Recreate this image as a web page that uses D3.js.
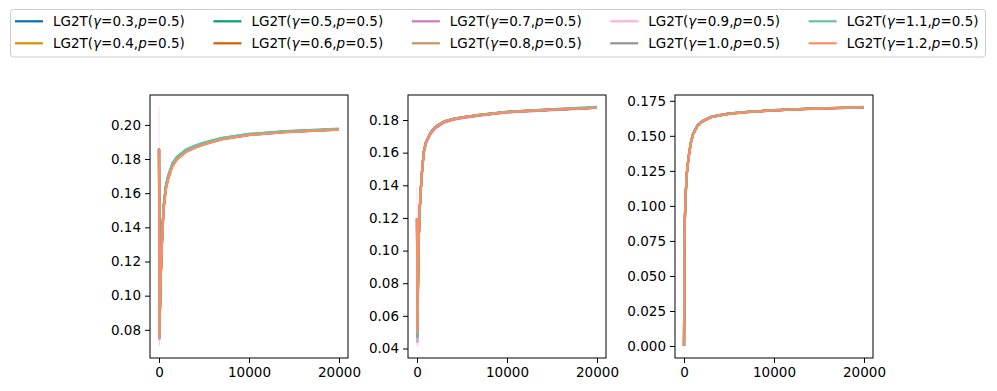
<!DOCTYPE html>
<html>
  <head>
    <script src="https://cdn.jsdelivr.net/npm/d3@7"></script>
    <style>
      body { margin: 0; background-color: white; }
      text { font-family: 'DejaVu Sans', sans-serif; }
    </style>
  </head>
  <body>
    <svg id="canvas" width="997" height="391"></svg>

    <script>
      // series labels and colours
      const gammas = ['0.3', '0.4', '0.5', '0.6', '0.7', '0.8', '0.9', '1.0', '1.1', '1.2']
      const colors = ['#0173b2', '#de8f05', '#029e73', '#d55e00', '#cc78bc',
                      '#ca9161', '#fbafe4', '#949494', '#66c2a5', '#fc8d62']

      // sampled training steps (shared by all series)
      const steps = [0, 50, 150, 300, 500, 750, 1000, 1500, 2000, 3000, 4000, 5000, 7000, 10000, 14000, 20000]

      // left panel, one row per gamma
      const valuesA = [
        [0.186, 0.0760, 0.105, 0.128, 0.151, 0.163, 0.1690, 0.1766, 0.1804, 0.1847, 0.1872, 0.1890, 0.1919, 0.1943, 0.1960, 0.1974],
        [0.186, 0.0758, 0.105, 0.128, 0.151, 0.163, 0.1688, 0.1764, 0.1802, 0.1846, 0.1870, 0.1889, 0.1918, 0.1942, 0.1959, 0.1973],
        [0.186, 0.0757, 0.106, 0.129, 0.152, 0.164, 0.1700, 0.1774, 0.1812, 0.1854, 0.1878, 0.1895, 0.1923, 0.1946, 0.1962, 0.1976],
        [0.186, 0.0756, 0.105, 0.128, 0.151, 0.163, 0.1690, 0.1766, 0.1803, 0.1846, 0.1871, 0.1889, 0.1918, 0.1942, 0.1959, 0.1973],
        [0.186, 0.0745, 0.104, 0.127, 0.150, 0.162, 0.1680, 0.1761, 0.1799, 0.1843, 0.1867, 0.1886, 0.1916, 0.1941, 0.1958, 0.1972],
        [0.186, 0.0754, 0.104, 0.127, 0.150, 0.162, 0.1682, 0.1761, 0.1799, 0.1843, 0.1868, 0.1886, 0.1916, 0.1941, 0.1958, 0.1972],
        [0.2105, 0.0705, 0.104, 0.127, 0.150, 0.162, 0.1681, 0.1760, 0.1798, 0.1842, 0.1867, 0.1886, 0.1916, 0.1941, 0.1958, 0.1972],
        [0.186, 0.0752, 0.105, 0.128, 0.151, 0.163, 0.1686, 0.1764, 0.1802, 0.1845, 0.1869, 0.1888, 0.1917, 0.1942, 0.1959, 0.1973],
        [0.186, 0.0756, 0.106, 0.129, 0.152, 0.164, 0.1700, 0.1776, 0.1814, 0.1856, 0.1879, 0.1896, 0.1924, 0.1947, 0.1963, 0.1978],
        [0.186, 0.0755, 0.104, 0.127, 0.150, 0.162, 0.1680, 0.1759, 0.1797, 0.1841, 0.1866, 0.1885, 0.1915, 0.1940, 0.1957, 0.1972]
      ]

      // middle panel
      const valuesB = [
        [0.1197, 0.0490, 0.100, 0.125, 0.145, 0.1605, 0.1665, 0.1722, 0.1756, 0.1791, 0.1806, 0.1816, 0.1831, 0.1849, 0.1861, 0.1876],
        [0.1197, 0.0488, 0.100, 0.125, 0.145, 0.1605, 0.1665, 0.1721, 0.1756, 0.1791, 0.1806, 0.1816, 0.1831, 0.1849, 0.1861, 0.1876],
        [0.1197, 0.0475, 0.100, 0.125, 0.145, 0.1605, 0.1665, 0.1722, 0.1757, 0.1792, 0.1807, 0.1817, 0.1832, 0.1850, 0.1862, 0.1877],
        [0.1197, 0.0485, 0.100, 0.125, 0.145, 0.1605, 0.1665, 0.1720, 0.1755, 0.1790, 0.1805, 0.1815, 0.1830, 0.1848, 0.1860, 0.1876],
        [0.1197, 0.0440, 0.098, 0.123, 0.143, 0.1595, 0.1657, 0.1713, 0.1748, 0.1784, 0.1800, 0.1811, 0.1827, 0.1846, 0.1858, 0.1874],
        [0.1197, 0.0480, 0.100, 0.125, 0.145, 0.1603, 0.1663, 0.1719, 0.1754, 0.1789, 0.1804, 0.1814, 0.1830, 0.1848, 0.1860, 0.1875],
        [0.1390, 0.0415, 0.099, 0.124, 0.144, 0.1600, 0.1661, 0.1717, 0.1752, 0.1788, 0.1803, 0.1813, 0.1829, 0.1847, 0.1859, 0.1875],
        [0.1197, 0.0470, 0.100, 0.125, 0.145, 0.1605, 0.1665, 0.1720, 0.1755, 0.1790, 0.1805, 0.1815, 0.1830, 0.1848, 0.1860, 0.1876],
        [0.1197, 0.0470, 0.100, 0.125, 0.145, 0.1606, 0.1666, 0.1722, 0.1757, 0.1792, 0.1807, 0.1817, 0.1833, 0.1851, 0.1864, 0.1880],
        [0.1197, 0.0500, 0.100, 0.125, 0.145, 0.1605, 0.1665, 0.1720, 0.1755, 0.1790, 0.1805, 0.1815, 0.1830, 0.1848, 0.1860, 0.1875]
      ]

      // right panel
      const valuesC = [
        [0.000, 0.079, 0.104, 0.123, 0.135, 0.1452, 0.1516, 0.1575, 0.1604, 0.1636, 0.1648, 0.1659, 0.1671, 0.1683, 0.1694, 0.1704],
        [0.000, 0.078, 0.103, 0.122, 0.134, 0.1447, 0.1512, 0.1572, 0.1601, 0.1634, 0.1646, 0.1658, 0.1670, 0.1682, 0.1693, 0.1704],
        [0.000, 0.078, 0.103, 0.122, 0.134, 0.1447, 0.1512, 0.1572, 0.1601, 0.1634, 0.1646, 0.1658, 0.1670, 0.1682, 0.1693, 0.1704],
        [0.000, 0.078, 0.103, 0.122, 0.134, 0.1445, 0.1510, 0.1570, 0.1600, 0.1633, 0.1645, 0.1657, 0.1669, 0.1681, 0.1692, 0.1703],
        [0.000, 0.078, 0.103, 0.122, 0.134, 0.1446, 0.1511, 0.1571, 0.1601, 0.1634, 0.1646, 0.1658, 0.1670, 0.1682, 0.1693, 0.1704],
        [0.000, 0.078, 0.103, 0.122, 0.134, 0.1445, 0.1510, 0.1570, 0.1600, 0.1633, 0.1645, 0.1657, 0.1669, 0.1681, 0.1692, 0.1703],
        [0.000, 0.067, 0.102, 0.121, 0.133, 0.1442, 0.1508, 0.1569, 0.1599, 0.1632, 0.1645, 0.1657, 0.1669, 0.1681, 0.1692, 0.1703],
        [0.000, 0.079, 0.104, 0.123, 0.135, 0.1452, 0.1516, 0.1576, 0.1605, 0.1637, 0.1649, 0.1660, 0.1671, 0.1683, 0.1694, 0.1704],
        [0.000, 0.078, 0.103, 0.122, 0.134, 0.1447, 0.1512, 0.1572, 0.1602, 0.1635, 0.1647, 0.1659, 0.1671, 0.1683, 0.1695, 0.1706],
        [0.000, 0.078, 0.103, 0.122, 0.134, 0.1445, 0.1510, 0.1570, 0.1600, 0.1633, 0.1645, 0.1657, 0.1669, 0.1681, 0.1692, 0.1703]
      ]

      const xTicks = [0, 10000, 20000]
      const yTicksA = [0.08, 0.10, 0.12, 0.14, 0.16, 0.18, 0.20]
      const yTicksB = [0.04, 0.06, 0.08, 0.10, 0.12, 0.14, 0.16, 0.18]
      const yTicksC = [0, 0.025, 0.05, 0.075, 0.10, 0.125, 0.15, 0.175]

      const panels = [
        { left: 150, values: valuesA, ticks: yTicksA, fmt: d3.format('.2f') },
        { left: 408, values: valuesB, ticks: yTicksB, fmt: d3.format('.2f') },
        { left: 675, values: valuesC, ticks: yTicksC, fmt: d3.format('.3f') }
      ]
      const panelW = 198
      const plotTop = 95
      const plotBottom = 358
      const fontSize = 13.5

      const svg = d3.select('#canvas')

      // pad an extent by 5% on each side, like matplotlib does
      const padded = ext => {
        const d = ext[1] - ext[0]
        return [ext[0] - d * 0.05, ext[1] + d * 0.05]
      }

      // the light pink run only shows as a faint hairline in the plots
      const plotWidth = i => i === 6 ? 1 : 2.2
      const plotOpacity = i => i === 6 ? 0.45 : 1

      panels.forEach(p => {
        const g = svg.append('g')
        const x = d3.scaleLinear().domain(padded(d3.extent(steps))).range([p.left, p.left + panelW])
        const y = d3.scaleLinear().domain(padded(d3.extent(p.values.flat()))).range([plotBottom, plotTop])

        const clipId = 'clip' + p.left
        g.append('clipPath').attr('id', clipId)
          .append('rect')
            .attr('x', p.left).attr('y', plotTop)
            .attr('width', panelW).attr('height', plotBottom - plotTop)

        const line = d3.line()
          .x((d, i) => x(steps[i]))
          .y(d => y(d))

        g.append('g').attr('clip-path', `url(#${clipId})`)
          .selectAll('path')
          .data(p.values)
          .enter()
          .append('path')
            .attr('d', line)
            .attr('fill', 'none')
            .attr('stroke', (d, i) => colors[i])
            .attr('stroke-width', (d, i) => plotWidth(i))
            .attr('stroke-opacity', (d, i) => plotOpacity(i))
            .attr('stroke-linejoin', 'round')

        // axes
        const xAxis = d3.axisBottom(x).tickValues(xTicks).tickSize(5).tickPadding(4).tickFormat(d3.format('d'))
        const yAxis = d3.axisLeft(y).tickValues(p.ticks).tickSize(5).tickPadding(4).tickFormat(p.fmt)

        const gx = g.append('g').attr('transform', `translate(0, ${plotBottom})`).call(xAxis)
        const gy = g.append('g').attr('transform', `translate(${p.left}, 0)`).call(yAxis)

        ;[gx, gy].forEach(a => {
          a.select('.domain').remove()
          a.selectAll('line').attr('stroke', 'black').attr('stroke-width', 1)
          a.selectAll('text').attr('fill', 'black').style('font-size', fontSize + 'px')
            .style('font-family', "'DejaVu Sans', sans-serif")
        })

        // frame
        g.append('rect')
          .attr('x', p.left).attr('y', plotTop)
          .attr('width', panelW).attr('height', plotBottom - plotTop)
          .attr('fill', 'none')
          .attr('stroke', 'black')
          .attr('stroke-width', 1)
      })

      // legend
      const legend = svg.append('g')
      legend.append('rect')
        .attr('x', 10.5).attr('y', 9.5)
        .attr('width', 975).attr('height', 47.5)
        .attr('rx', 3).attr('ry', 3)
        .attr('fill', 'white').attr('fill-opacity', 0.8)
        .attr('stroke', '#cccccc').attr('stroke-width', 1)

      const colX = d3.scaleLinear().domain([0, 4]).range([15, 808.7])
      const rowY = [21.3, 43.3]

      const items = legend.selectAll('g.item')
        .data(gammas)
        .enter()
        .append('g')
          .attr('class', 'item')
          .attr('transform', (d, i) => `translate(${colX(Math.floor(i / 2))}, ${rowY[i % 2]})`)

      items.append('line')
        .attr('x1', 0).attr('x2', 28)
        .attr('stroke', (d, i) => colors[i])
        .attr('stroke-width', 2.2)

      const label = items.append('text')
        .attr('x', 38).attr('y', 5)
        .style('font-size', fontSize + 'px')
        .attr('fill', 'black')
      label.append('tspan').text('LG2T(')
      label.append('tspan').style('font-style', 'italic').text('γ')
      label.append('tspan').text(d => '=' + d + ',')
      label.append('tspan').style('font-style', 'italic').text('p')
      label.append('tspan').text('=0.5)')
    </script>
  </body>
</html>
